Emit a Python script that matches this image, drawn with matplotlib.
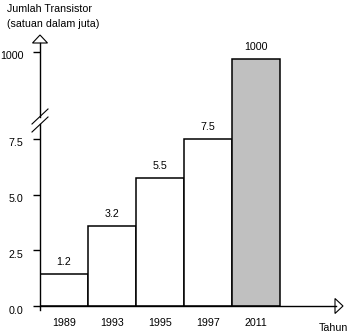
import matplotlib
matplotlib.use("Agg")
import matplotlib.pyplot as plt
import numpy as np
from matplotlib.lines import Line2D
from matplotlib.patches import Polygon
from matplotlib.transforms import ScaledTranslation

plt.rcParams["font.family"] = ["Liberation Sans", "DejaVu Sans"]
plt.rcParams["font.size"] = 7.7

# data
years = ["1989", "1993", "1995", "1997", "2011"]
values = ["1.2", "3.2", "5.5", "7.5", "1000"]          # printed on the bars
heights = [1.45, 3.6, 5.75, 7.5, 987]                  # bar heights as drawn
colors = ["white", "white", "white", "white", "#c0c0c0"]
ytick_vals = [0, 2.5, 5, 7.5, 1000]
ytick_text = ["0.0", "2.5", "5.0", "7.5", "1000"]

W, H = 355, 333


def px(x, y):
    """pixel (from top-left) -> figure fraction"""
    return x / W, 1 - y / H


# broken y scale: linear up to 8, squeezed gap, then linear around 1000
knots_v = [0, 8, 950, 1100]
knots_f = [0, 8, 10.2, 10.2 + 150 * 0.02412]


def fwd(v):
    return np.interp(v, knots_v, knots_f)


def inv(f):
    return np.interp(f, knots_f, knots_v)


fig = plt.figure(figsize=(W / 100, H / 100), dpi=100)
fig.patch.set_facecolor("white")
left, bottom = px(40, 306)
right, top = px(343, 35)
ax = fig.add_axes([left, bottom, right - left, top - bottom])
ax.set_yscale("function", functions=(fwd, inv))

x = np.arange(len(years)) + 0.5
ax.bar(x, heights, width=1.0, color=colors, edgecolor="black", linewidth=1.1, zorder=2)
for xi, h, lab in zip(x, heights, values):
    ax.annotate(lab, (xi, h), xytext=(0, 8.6), textcoords="offset points",
                ha="center", va="center")

ax.set_xlim(0, (343 - 40) / 48)
ax.set_ylim(0, inv(271 / 22.27))

for s in ax.spines.values():
    s.set_visible(False)

ax.set_xticks(x)
ax.set_xticklabels(years)
ax.tick_params(axis="x", length=0, pad=9)
ax.set_yticks(ytick_vals)
ax.set_yticklabels(ytick_text)
ax.tick_params(axis="y", length=5, width=1, pad=7, direction="out")
shift = ScaledTranslation(0, -3.5 / 100, fig.dpi_scale_trans)
for lab in ax.get_yticklabels():
    lab.set_transform(lab.get_transform() + shift)

# axis lines with break and open arrowheads
def seg(x0, y0, x1, y1, lw=1.0):
    (a, b), (c, d) = px(x0, y0), px(x1, y1)
    fig.add_artist(Line2D([a, c], [b, d], color="black", lw=lw, transform=fig.transFigure))


seg(40, 310, 40, 124.5)
seg(40, 116.5, 40, 43)
seg(32, 132, 48, 117, lw=0.8)
seg(32, 124, 48, 109, lw=0.8)
seg(40, 306, 336, 306)
fig.add_artist(Polygon([px(40, 35), px(32.5, 43), px(47.5, 43)], closed=True,
                       facecolor="white", edgecolor="black", lw=0.8,
                       transform=fig.transFigure))
fig.add_artist(Polygon([px(343, 306), px(335, 298.5), px(335, 313.5)], closed=True,
                       facecolor="white", edgecolor="black", lw=0.8,
                       transform=fig.transFigure))

fig.text(*px(7, 11.5), "Jumlah Transistor", ha="left", va="baseline")
fig.text(*px(7, 27), "(satuan dalam juta)", ha="left", va="baseline")
fig.text(*px(333, 331), "Tahun", ha="center", va="baseline")

fig.savefig("out.png", dpi=100, facecolor="white")
